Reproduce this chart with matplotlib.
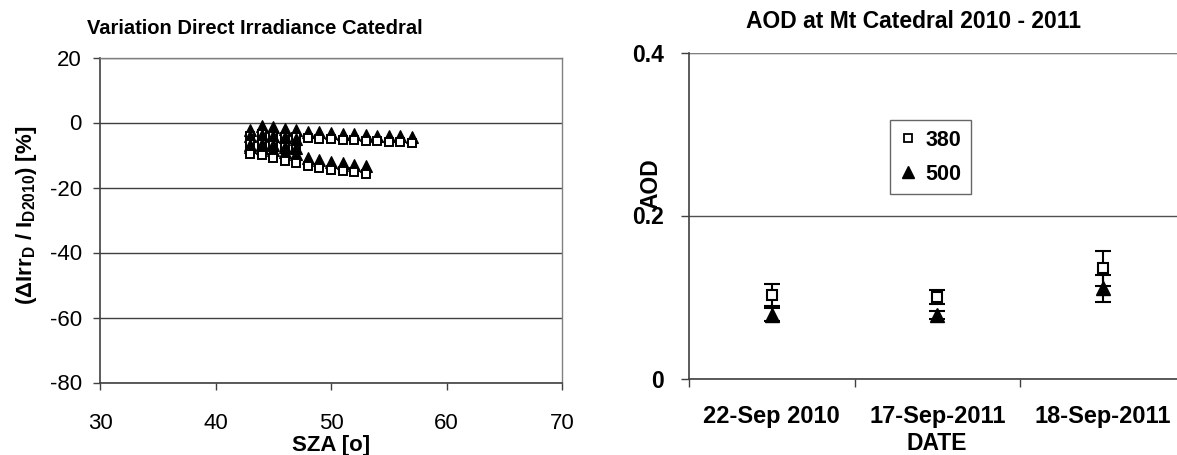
import matplotlib
matplotlib.use('Agg')
import matplotlib.pyplot as plt
import numpy as np
from matplotlib.lines import Line2D

plt.rcParams['font.family'] = ['Liberation Sans', 'DejaVu Sans']
plt.rcParams['axes.unicode_minus'] = False

# ---------------- Left chart data ----------------
sza_1 = [43, 44, 45, 46, 47, 48, 49, 50, 51, 52, 53, 54, 55, 56, 57]
tri_1 = [-2.2, -1.0, -1.5, -2.0, -2.2, -2.8, -3.0, -3.2, -3.4, -3.6, -3.8, -4.0, -4.2, -4.3, -4.6]
sq_1 = [-4.0, -3.5, -4.0, -4.5, -4.5, -4.8, -5.0, -5.2, -5.3, -5.5, -5.6, -5.8, -6.0, -6.1, -6.3]

sza_2 = [43, 44, 45, 46, 47, 48, 49, 50, 51, 52, 53]
tri_2 = [-7.5, -7.8, -8.5, -9.0, -9.8, -11.0, -11.5, -12.0, -12.5, -13.0, -13.5]
sq_2 = [-9.6, -10.0, -11.0, -11.8, -12.6, -13.5, -14.0, -14.5, -15.0, -15.3, -15.8]

sza_3 = [43, 44, 45, 46, 47]
tri_3 = [-4.2, -3.8, -4.2, -4.6, -5.0]
sq_3 = [-6.5, -6.5, -7.0, -7.5, -8.0]
tri_4 = [-6.8, -6.6, -7.0, -7.4, -7.8]

left_title = "Variation Direct Irradiance Catedral"
left_xticks = [30, 40, 50, 60, 70]
left_yticks = [-80, -60, -40, -20, 0, 20]

# ---------------- Right chart data ----------------
dates = ["22-Sep 2010", "17-Sep-2011", "18-Sep-2011"]
aod_380 = [0.1025, 0.100, 0.135]
err_380 = [0.013, 0.0085, 0.021]
aod_500 = [0.078, 0.078, 0.1107]
err_500 = [0.008, 0.005, 0.0165]
right_title = "AOD at Mt Catedral 2010 - 2011"
right_yticks = [0, 0.2, 0.4]
right_yticklabels = ['0', '0.2', '0.4']

W, H = 1177, 455
fig = plt.figure(figsize=(W / 100, H / 100), dpi=100)


def rect(x0, x1, ytop, ybot):
    return [x0 / W, 1 - ybot / H, (x1 - x0) / W, (ybot - ytop) / H]


# ================= Left chart =================
ax1 = fig.add_axes(rect(100, 562, 57.5, 382.5))
ax1.set_xlim(30, 70)
ax1.set_ylim(-80, 20)
ax1.set_xticks(left_xticks)
ax1.set_yticks(left_yticks)
ax1.grid(axis='y', color='#404040', lw=1.0)
ax1.set_axisbelow(True)
for s in ['top', 'right']:
    ax1.spines[s].set_color('#808080')
    ax1.spines[s].set_linewidth(1.0)
for s in ['left', 'bottom']:
    ax1.spines[s].set_color('#404040')
    ax1.spines[s].set_linewidth(1.2)
ax1.tick_params(axis='y', direction='out', length=5, width=1, color='#404040',
                labelsize=16, pad=8)
ax1.tick_params(axis='x', direction='out', length=5, width=1, color='#404040',
                labelsize=16, pad=17)

tri_kw = dict(ls='none', marker='^', ms=9, mfc='black', mec='black', mew=0.8)
sq_kw = dict(ls='none', marker='s', ms=5.5, mfc='white', mec='black', mew=1.4)
ax1.plot(sza_1, tri_1, **tri_kw)
ax1.plot(sza_1, sq_1, **sq_kw)
ax1.plot(sza_3, tri_3, **tri_kw)
ax1.plot(sza_3, sq_3, **sq_kw)
ax1.plot(sza_3, tri_4, **tri_kw)
ax1.plot(sza_2, tri_2, **tri_kw)
ax1.plot(sza_2, sq_2, **sq_kw)

fig.text(331 / W, 1 - 445 / H, "SZA [o]", ha='center', va='center',
         fontsize=16, fontweight='bold')
fig.text(27 / W, 1 - 215 / H,
         "(ΔIrr$_\\mathregular{D}$ / I$_\\mathregular{D2010}$) [%]",
         rotation=90, ha='center', va='center', fontsize=16, fontweight='bold')
fig.text(255 / W, 1 - 28 / H, left_title, ha='center', va='center',
         fontsize=14.5, fontweight='bold')

# ================= Right chart =================
ax2 = fig.add_axes(rect(689, 1185.5, 52.5, 378.5))
x = np.arange(1, len(dates) + 1)
ax2.set_xlim(0.5, len(dates) + 0.5)
ax2.set_ylim(0, 0.4)
ax2.set_yticks(right_yticks)
ax2.set_yticklabels(right_yticklabels)
ax2.set_xticks(x)
ax2.set_xticklabels(dates)
ax2.set_xticks(np.arange(0.5, len(dates) + 1, 1.0), minor=True)
ax2.tick_params(axis='x', which='major', length=0, pad=19)
ax2.tick_params(axis='x', which='minor', length=6, width=1, color='#404040', direction='out')
ax2.tick_params(axis='y', length=6, width=1, color='#404040', direction='out', pad=12)
for lab in ax2.get_xticklabels():
    lab.set_fontweight('bold')
    lab.set_fontsize(17)
for lab in ax2.get_yticklabels():
    lab.set_fontweight('bold')
    lab.set_fontsize(16.5)
ax2.grid(axis='y', color='#505050', lw=1.0)
ax2.set_axisbelow(True)
ax2.spines['top'].set_visible(False)
ax2.spines['right'].set_visible(False)
for s in ['left', 'bottom']:
    ax2.spines[s].set_color('#404040')
    ax2.spines[s].set_linewidth(1.2)
ax2.axhline(0.4, color='#808080', lw=1.5)

ax2.errorbar(x, aod_380, yerr=err_380, ls='none', marker='s', ms=7,
             mfc='white', mec='black', mew=1.5, ecolor='black', elinewidth=1.5,
             capsize=5.5, capthick=1.5, zorder=3)
ax2.errorbar(x, aod_500, yerr=err_500, ls='none', marker='^', ms=10,
             mfc='black', mec='black', ecolor='black', elinewidth=1.5,
             capsize=5.5, capthick=1.5, zorder=3)

fig.text(914 / W, 1 - 22 / H, right_title, ha='center', va='center',
         fontsize=16.5, fontweight='bold')
fig.text(651 / W, 1 - 184 / H, "AOD", rotation=90, ha='center', va='center',
         fontsize=16.5, fontweight='bold')
fig.text(937 / W, 1 - 444 / H, "DATE", ha='center', va='center',
         fontsize=16.5, fontweight='bold')

h1 = Line2D([], [], ls='none', marker='s', ms=6, mfc='white', mec='black', mew=1.3)
h2 = Line2D([], [], ls='none', marker='^', ms=8, mfc='black', mec='black')
leg = ax2.legend([h1, h2], ['380', '500'], loc='upper left',
                 bbox_to_anchor=((890 - 689) / (1185.5 - 689), 1 - (120 - 52.5) / (378.5 - 52.5)),
                 frameon=True, fancybox=False, edgecolor='#404040',
                 prop={'weight': 'bold', 'size': 15.5}, handlelength=0.8,
                 handletextpad=0.4, borderpad=0.45, labelspacing=0.6, borderaxespad=0)
leg.get_frame().set_linewidth(1.0)

fig.savefig('out.png', dpi=100)
